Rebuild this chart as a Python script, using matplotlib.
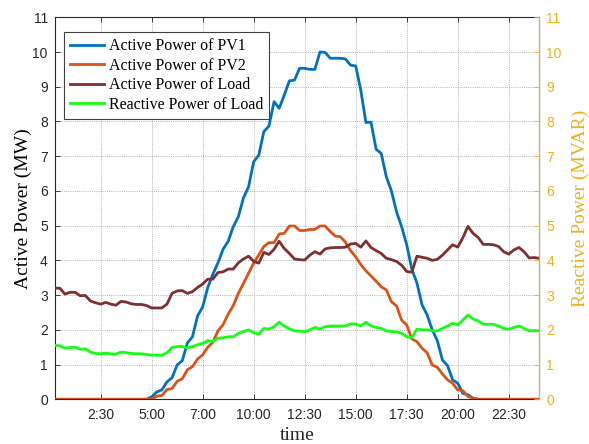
import numpy as np
import matplotlib
matplotlib.use("Agg")
import matplotlib.pyplot as plt

# ---------------- data ----------------
tick_pos = [10, 20, 30, 40, 50, 60, 70, 80, 90]
tick_labels = ['2:30', '5:00', '7:00', '10:00', '12:30', '15:00', '17:30', '20:00', '22:30']

pv1 = [0]*19 + [
    0.07, 0.21, 0.27, 0.50, 0.62, 0.99, 1.11, 1.62, 1.80, 2.40,
    2.66, 3.22, 3.60, 3.93, 4.32, 4.55, 4.97, 5.26, 5.80, 6.12,
    6.84, 7.03, 7.71, 7.87, 8.57, 8.38, 8.76, 9.17, 9.19, 9.53,
    9.53, 9.50, 9.50, 10.00, 9.99, 9.82, 9.82, 9.82, 9.80, 9.62,
    9.60, 8.90, 7.97, 7.98, 7.20, 7.08, 6.41, 6.00, 5.40, 4.97,
    4.45, 3.75, 3.35, 2.72, 2.43, 2.00, 1.69, 1.13, 0.97, 0.56,
    0.46, 0.17, 0.13, 0.03] + [0]*13

pv2 = [0]*20 + [
    0.09, 0.11, 0.28, 0.31, 0.52, 0.59, 0.85, 0.94, 1.16, 1.28,
    1.50, 1.64, 1.97, 2.15, 2.45, 2.70, 3.05, 3.34, 3.63, 3.92,
    4.16, 4.40, 4.51, 4.51, 4.76, 4.78, 4.99, 4.99, 4.86, 4.86,
    4.89, 4.89, 4.99, 4.99, 4.83, 4.70, 4.68, 4.52, 4.28, 4.10,
    3.88, 3.70, 3.55, 3.40, 3.24, 3.15, 2.81, 2.69, 2.28, 2.14,
    1.74, 1.66, 1.47, 1.34, 0.99, 0.92, 0.73, 0.56, 0.46, 0.27,
    0.25, 0.08, 0.03] + [0]*13

load_p = [
    3.20, 3.20, 3.03, 3.08, 3.08, 2.98, 2.99, 2.83, 2.78, 2.74,
    2.79, 2.74, 2.71, 2.82, 2.80, 2.75, 2.73, 2.73, 2.70, 2.63,
    2.63, 2.63, 2.74, 3.05, 3.12, 3.13, 3.05, 3.10, 3.22, 3.32,
    3.46, 3.46, 3.65, 3.67, 3.75, 3.75, 3.93, 4.04, 4.12, 3.97,
    3.92, 4.23, 4.17, 4.32, 4.55, 4.34, 4.20, 4.04, 4.02, 4.01,
    4.15, 4.25, 4.18, 4.33, 4.36, 4.37, 4.37, 4.38, 4.47, 4.49,
    4.38, 4.56, 4.37, 4.28, 4.20, 4.06, 4.02, 3.97, 3.86, 3.68,
    3.66, 4.12, 4.09, 4.06, 4.00, 4.03, 4.15, 4.30, 4.45, 4.38,
    4.65, 4.98, 4.78, 4.66, 4.46, 4.46, 4.45, 4.40, 4.25, 4.18,
    4.30, 4.37, 4.25, 4.07, 4.08, 4.06]

load_q = [
    1.55, 1.54, 1.47, 1.49, 1.50, 1.44, 1.45, 1.36, 1.32, 1.31,
    1.33, 1.31, 1.30, 1.36, 1.34, 1.32, 1.31, 1.31, 1.29, 1.27,
    1.27, 1.27, 1.34, 1.49, 1.52, 1.52, 1.48, 1.52, 1.57, 1.61,
    1.69, 1.66, 1.76, 1.77, 1.80, 1.80, 1.90, 1.95, 2.00, 1.92,
    1.87, 2.04, 2.02, 2.09, 2.22, 2.11, 2.03, 1.97, 1.96, 1.95,
    2.00, 2.07, 2.02, 2.09, 2.11, 2.11, 2.11, 2.11, 2.17, 2.17,
    2.11, 2.22, 2.11, 2.07, 2.04, 1.97, 1.95, 1.94, 1.90, 1.80,
    1.78, 2.02, 2.00, 2.00, 1.97, 1.97, 2.04, 2.11, 2.19, 2.14,
    2.28, 2.43, 2.31, 2.26, 2.16, 2.16, 2.16, 2.11, 2.04, 2.02,
    2.07, 2.11, 2.04, 1.97, 1.98, 1.97]

x = np.arange(1, len(load_p) + 1)

# ---------------- style ----------------
serif = ['Liberation Serif', 'DejaVu Serif']
sans = ['Liberation Sans', 'DejaVu Sans']
c_pv1 = '#0072BD'
c_pv2 = '#D95319'
c_load = '#7E2F2F'
c_q = '#14FF14'
c_right = '#EDB120'
tick_col = '#262626'

fig = plt.figure(figsize=(5.89, 4.44), dpi=100)
ax = fig.add_axes([0.0929, 0.1007, 0.8228, 0.8604])
ax2 = ax.twinx()

lw = 2.0
l1, = ax.plot(x, pv1, color=c_pv1, lw=lw, label='Active Power of PV1', zorder=3)
l2, = ax.plot(x, pv2, color=c_pv2, lw=lw, label='Active Power of PV2', zorder=4)
l3, = ax.plot(x, load_p, color=c_load, lw=lw, label='Active Power of Load', zorder=5)
l4, = ax2.plot(x, load_q, color=c_q, lw=lw, label='Reactive Power of Load', zorder=3)

for a in (ax, ax2):
    a.set_xlim(1, 96)
    a.set_ylim(0, 11)

ax.set_xticks(tick_pos)
ax.set_xticklabels(tick_labels)
ax.set_yticks(range(0, 12))
ax2.set_yticks(range(0, 12))

ax.grid(True, color='#b4b4b4', linestyle=(0, (1, 1.2)), linewidth=0.7)
ax.set_axisbelow(True)

ax.tick_params(axis='x', direction='in', length=3.6, width=0.6, top=True,
               colors=tick_col, labelsize=10, pad=6)
ax.tick_params(axis='y', direction='in', length=3.6, width=0.6, right=False,
               colors=tick_col, labelsize=10, pad=5)
ax2.tick_params(axis='y', direction='in', length=3.6, width=0.6,
                colors=c_right, labelsize=10, pad=5)
for lab in ax.get_xticklabels() + ax.get_yticklabels() + ax2.get_yticklabels():
    lab.set_fontfamily(sans)

for s in ('left', 'bottom', 'top'):
    ax.spines[s].set_color(tick_col)
    ax.spines[s].set_linewidth(0.8)
ax2.spines['right'].set_color(c_right)
ax2.spines['right'].set_linewidth(0.8)
for s in ('left', 'bottom', 'top'):
    ax2.spines[s].set_visible(False)

ax.set_ylabel('Active Power (MW)', family=serif, fontsize=14, color='black')
ax.yaxis.set_label_coords(-0.046, 0.5)
ax2.set_ylabel('Reactive Power (MVAR)', family=serif, fontsize=14, color=c_right)
ax2.yaxis.set_label_coords(1.066, 0.5)
ax.set_xlabel('time', family=serif, fontsize=14, color=tick_col)
ax.xaxis.set_label_coords(0.5, -0.072)

leg = ax2.legend(handles=[l1, l2, l3, l4], loc='upper left',
                 bbox_to_anchor=(0.019, 0.962), borderaxespad=0,
                 prop={'family': serif, 'size': 11.5}, fancybox=False,
                 framealpha=1, edgecolor='#404040', handlelength=2.1,
                 handletextpad=0.3, labelspacing=0.22, borderpad=0.4)
leg.get_frame().set_linewidth(0.8)

fig.savefig('out.png', dpi=100)
